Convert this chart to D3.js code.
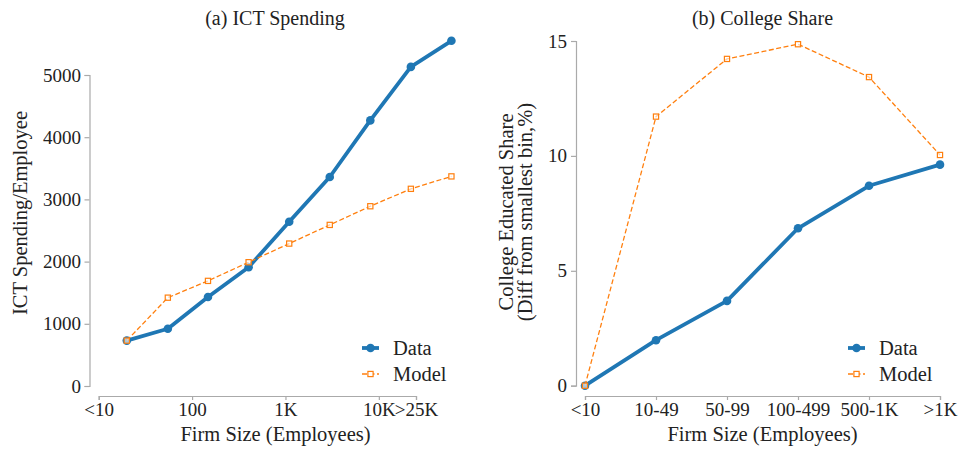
<!DOCTYPE html>
<html>
<head>
<meta charset="utf-8">
<script src="https://cdn.jsdelivr.net/npm/d3@7/dist/d3.min.js"></script>
<style>
  body { margin: 0; background: #fff; }
  svg { display: block; }
  text { font-family: "Palatino Linotype", Palatino, "Liberation Serif", serif; fill: #222; }
</style>
</head>
<body>
<svg id="chart" width="962" height="450"></svg>
<script>
// Panel (a): ICT spending per employee by firm size (log employees)
const ictSizes = [20, 55, 148, 403, 1097, 2981, 8103, 22026, 59874];
const ictData  = [730, 920, 1430, 1910, 2640, 3360, 4270, 5130, 5550];
const ictModel = [730, 1420, 1690, 1990, 2290, 2590, 2890, 3170, 3370];
const ictXTicks = [10, 100, 1000, 10000, 25000];
const ictXTickLabels = ["<10", "100", "1K", "10K", ">25K"];
const ictYTicks = [0, 1000, 2000, 3000, 4000, 5000];

// Panel (b): college-educated share, difference from smallest bin (%)
const collegeBins  = ["<10", "10-49", "50-99", "100-499", "500-1K", ">1K"];
const collegeData  = [0, 1.98, 3.69, 6.85, 8.70, 9.62];
const collegeModel = [0, 11.71, 14.22, 14.86, 13.43, 10.04];
const collegeYTicks = [0, 5, 10, 15];

const seriesNames = ["Data", "Model"];

const blue = "#1f77b4", orange = "#ff7f0e", axisGrey = "#aaaaaa";
const fontStack = "\"Palatino Linotype\", Palatino, \"Liberation Serif\", serif";
const svg = d3.select("#chart");

function styleAxis(g) {
  g.attr("font-family", null).attr("font-size", null);
  g.selectAll(".domain").attr("stroke", axisGrey).attr("stroke-width", 1.2);
  g.selectAll(".tick line").attr("stroke", axisGrey).attr("stroke-width", 1.2);
  g.selectAll(".tick text").attr("fill", "#222").style("font-size", "19px")
    .style("font-family", fontStack);
}

function drawSeries(g, xs, ys, x, y) {
  const line = d3.line();
  const pts = xs.map((v, i) => [x(v), y(ys[0][i])]);
  const mpts = xs.map((v, i) => [x(v), y(ys[1][i])]);
  // observed data: thick line with filled circles
  g.append("path").attr("d", line(pts)).attr("fill", "none")
    .attr("stroke", blue).attr("stroke-width", 3.8).attr("stroke-linejoin", "round");
  g.selectAll(".dot").data(pts).join("circle").attr("class", "dot")
    .attr("cx", d => d[0]).attr("cy", d => d[1]).attr("r", 4.3).attr("fill", blue);
  // model: thin dashed line with open squares
  g.append("path").attr("d", line(mpts)).attr("fill", "none")
    .attr("stroke", orange).attr("stroke-width", 1.3).attr("stroke-dasharray", "5,2.5");
  g.selectAll(".sq").data(mpts).join("rect").attr("class", "sq")
    .attr("x", d => d[0] - 2.6).attr("y", d => d[1] - 2.6)
    .attr("width", 5.2).attr("height", 5.2)
    .attr("fill", "#fff").attr("fill-opacity", 0.6).attr("stroke", orange).attr("stroke-width", 1.2);
}

function drawLegend(g, lx, ly) {
  g.append("line").attr("x1", lx).attr("x2", lx + 17).attr("y1", ly).attr("y2", ly)
    .attr("stroke", blue).attr("stroke-width", 3.8);
  g.append("circle").attr("cx", lx + 8.5).attr("cy", ly).attr("r", 4.3).attr("fill", blue);
  g.append("text").attr("x", lx + 31).attr("y", ly + 7).style("font-size", "20.5px").text(seriesNames[0]);
  const my = ly + 26;
  g.append("line").attr("x1", lx).attr("x2", lx + 17).attr("y1", my).attr("y2", my)
    .attr("stroke", orange).attr("stroke-width", 1.3).attr("stroke-dasharray", "5,2.5");
  g.append("rect").attr("x", lx + 8.5 - 2.6).attr("y", my - 2.6).attr("width", 5.2).attr("height", 5.2)
    .attr("fill", "#fff").attr("stroke", orange).attr("stroke-width", 1.2);
  g.append("text").attr("x", lx + 31).attr("y", my + 7).style("font-size", "20.5px").text(seriesNames[1]);
}

// ---------- Panel (a) ----------
{
  const g = svg.append("g");
  const x = d3.scaleLog().domain([10, 25000]).range([98.7, 416]);
  const y = d3.scaleLinear().domain([0, 5000]).range([386, 75]);

  const xa = g.append("g").attr("transform", "translate(0,396)")
    .call(d3.axisBottom(x).tickValues(ictXTicks)
      .tickFormat((d, i) => ictXTickLabels[i]).tickSizeOuter(0).tickSize(4).tickPadding(3));
  styleAxis(xa);

  const ya = g.append("g").attr("transform", "translate(89.5,0)")
    .call(d3.axisLeft(y).tickValues(ictYTicks).tickFormat(d3.format("d"))
      .tickSizeOuter(0).tickSize(5).tickPadding(3.5));
  styleAxis(ya);

  drawSeries(g, ictSizes, [ictData, ictModel], x, y);

  g.append("text").attr("x", 275).attr("y", 25).attr("text-anchor", "middle")
    .style("font-size", "20px").text("(a) ICT Spending");
  g.append("text").attr("x", 275.5).attr("y", 441).attr("text-anchor", "middle")
    .style("font-size", "20.5px").text("Firm Size (Employees)");
  g.append("text").attr("transform", "translate(27,213) rotate(-90)").attr("text-anchor", "middle")
    .style("font-size", "20.5px").text("ICT Spending/Employee");

  drawLegend(g, 362, 348);
}

// ---------- Panel (b) ----------
{
  const g = svg.append("g");
  const x = d3.scalePoint().domain(collegeBins).range([585, 940]);
  const y = d3.scaleLinear().domain([0, 15]).range([385.7, 41]);

  const xa = g.append("g").attr("transform", "translate(0,396)")
    .call(d3.axisBottom(x).tickSizeOuter(0).tickSize(4).tickPadding(3));
  styleAxis(xa);

  const ya = g.append("g").attr("transform", "translate(576,0)")
    .call(d3.axisLeft(y).tickValues(collegeYTicks).tickSizeOuter(0).tickSize(5).tickPadding(4));
  styleAxis(ya);

  drawSeries(g, collegeBins, [collegeData, collegeModel], x, y);

  g.append("text").attr("x", 762.5).attr("y", 25).attr("text-anchor", "middle")
    .style("font-size", "20px").text("(b) College Share");
  g.append("text").attr("x", 762.5).attr("y", 441).attr("text-anchor", "middle")
    .style("font-size", "20.5px").text("Firm Size (Employees)");
  g.append("text").attr("transform", "translate(513,212) rotate(-90)").attr("text-anchor", "middle")
    .style("font-size", "20.5px").text("College Educated Share");
  g.append("text").attr("transform", "translate(532,212) rotate(-90)").attr("text-anchor", "middle")
    .style("font-size", "20.5px").text("(Diff from smallest bin,%)");

  drawLegend(g, 848, 348);
}
</script>
</body>
</html>
